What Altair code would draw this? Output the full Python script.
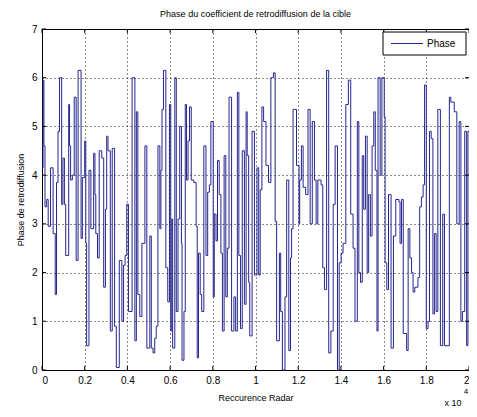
import altair as alt
import pandas as pd

# step positions (x 10^4) and phase values
x_pos = [0, 0.005, 0.009, 0.014, 0.022, 0.029, 0.04, 0.052, 0.062, 0.068, 0.075, 0.082, 0.092, 0.098,
         0.105, 0.111, 0.125, 0.129, 0.134, 0.142, 0.151, 0.16, 0.169, 0.183, 0.189, 0.2, 0.205, 0.209,
         0.22, 0.229, 0.242, 0.248, 0.252, 0.26, 0.268, 0.28, 0.289, 0.297, 0.303, 0.309, 0.32, 0.329,
         0.34, 0.348, 0.362, 0.374, 0.382, 0.389, 0.397, 0.405, 0.422, 0.435, 0.442, 0.449, 0.458, 0.468,
         0.482, 0.491, 0.505, 0.512, 0.52, 0.528, 0.535, 0.543, 0.552, 0.557, 0.562, 0.569, 0.58, 0.589,
         0.597, 0.603, 0.608, 0.612, 0.622, 0.629,
         0.637, 0.645, 0.653, 0.656, 0.665, 0.671, 0.677, 0.684, 0.691, 0.699, 0.711, 0.722, 0.727, 0.733,
         0.741, 0.748, 0.758, 0.768, 0.776, 0.784, 0.791, 0.802, 0.807, 0.815, 0.822, 0.83, 0.838, 0.845,
         0.853, 0.861, 0.868, 0.876, 0.888, 0.899, 0.907, 0.915, 0.922, 0.93, 0.938, 0.948, 0.956, 0.961,
         0.968, 0.973, 0.984, 0.995, 1.007, 1.015, 1.022, 1.03, 1.038, 1.049, 1.061, 1.072, 1.084, 1.092,
         1.099, 1.112, 1.118, 1.126, 1.138, 1.146, 1.156, 1.164, 1.169, 1.176, 1.192, 1.204, 1.207, 1.215,
         1.223, 1.235, 1.246, 1.256, 1.266,
         1.276, 1.284, 1.292, 1.307, 1.315, 1.323, 1.333, 1.343, 1.353, 1.364, 1.373, 1.384, 1.392, 1.401,
         1.41, 1.423, 1.435, 1.446, 1.457, 1.466, 1.477, 1.484, 1.492, 1.5, 1.507, 1.515, 1.523, 1.53,
         1.538, 1.546, 1.554, 1.561, 1.569, 1.574, 1.584, 1.592, 1.603, 1.607, 1.615, 1.623, 1.635, 1.646,
         1.657, 1.672, 1.677, 1.684, 1.692, 1.708, 1.715, 1.723, 1.731, 1.738, 1.746, 1.761, 1.769, 1.777,
         1.785, 1.792, 1.8, 1.808, 1.815, 1.823, 1.831, 1.838, 1.846, 1.854, 1.866, 1.877, 1.885, 1.908,
         1.915, 1.931, 1.943, 1.954, 1.962, 1.969, 1.98, 1.989, 1.995, 2.0]
phase = [4.15, 5.95, 4.6, 3.35, 3.5, 2.95, 4.15, 2.8, 1.55, 3.85, 4.9, 6.0, 3.4, 4.35,
         3.4, 2.35, 5.45, 4.6, 3.9, 4.0, 5.6, 2.25, 6.15, 2.7, 3.95, 4.7, 2.6, 0.5,
         4.1, 2.9, 4.45, 3.6, 2.8, 2.3, 4.5, 4.35, 1.7, 3.3, 4.8, 4.5, 0.8, 4.55,
         0.9, 0.05, 2.25, 1.0, 2.15, 2.35, 3.4, 1.2, 6.0, 0.6, 5.3, 1.55, 1.1, 2.6,
         4.6, 0.45, 2.75, 0.45, 0.35, 0.65, 0.9, 4.6, 2.9, 4.1, 5.35, 6.15, 2.1, 1.4,
         5.45, 0.8, 3.1, 0.45, 6.0, 1.2,
         3.1, 5.0, 2.6, 0.2, 1.2, 5.45, 3.9, 4.7, 5.4, 3.9, 3.85, 2.95, 0.25, 2.4,
         1.55, 1.2, 4.6, 2.35, 3.65, 3.8, 5.1, 1.5, 3.2, 2.65, 4.3, 3.6, 2.4, 0.8,
         4.4, 1.5, 2.5, 5.6, 0.8, 1.5, 0.8, 5.7, 2.35, 0.85, 4.5, 1.35, 5.3, 4.4,
         1.8, 0.7, 4.9, 1.95, 4.15, 1.95, 3.7, 5.4, 5.1, 4.2, 3.85, 6.0, 6.1, 3.05,
         0.6, 2.4, 1.2, 0.0, 1.5, 3.9, 0.4, 2.3, 2.9, 5.35, 4.2, 3.0, 3.9, 4.6,
         3.75, 3.6, 5.35, 3.0, 5.1,
         3.9, 3.0, 3.9, 3.8, 2.1, 1.65, 6.15, 0.35, 0.8, 3.4, 4.6, 0.0, 2.2, 2.4,
         2.6, 5.45, 5.95, 3.2, 2.5, 1.0, 5.1, 2.0, 1.8, 4.4, 3.3, 4.8, 2.0, 3.6,
         2.75, 4.6, 5.3, 4.1, 0.8, 6.0, 4.0, 6.0, 5.2, 2.2, 1.65, 3.6, 0.45, 2.75,
         3.5, 3.45, 2.6, 3.5, 0.75, 0.4, 2.9, 2.3, 2.0, 1.6, 1.7, 1.9, 3.35, 3.55,
         3.8, 5.85, 0.85, 1.0, 4.9, 4.75, 1.15, 2.8, 1.2, 5.35, 0.5, 3.2, 0.5, 5.6,
         5.5, 5.3, 3.0, 5.1, 1.0, 1.2, 4.9, 0.5, 4.9, 4.9]
x_ticks = [0, 0.2, 0.4, 0.6, 0.8, 1.0, 1.2, 1.4, 1.6, 1.8, 2.0]
y_ticks = [0, 1, 2, 3, 4, 5, 6, 7]
legend_label = ["Phase"]

W, H = 427, 341
FONT = "Liberation Sans"
LINE_COLOR = "#25258f"

df = pd.DataFrame({"x": x_pos, "phase": phase})

xs = alt.Scale(domain=[0, 2], nice=False, zero=False)
ys = alt.Scale(domain=[0, 7], nice=False, zero=False)

x_axis = alt.Axis(
    values=x_ticks, format="~g", title="Reccurence Radar", grid=True,
    gridDash=[1, 3], gridColor="black", gridOpacity=0.9, ticks=False, domain=False,
    labelPadding=5, titlePadding=8, labelFontSize=10, titleFontSize=9,
    titleFontWeight="normal", labelColor="black", titleColor="black")
y_axis = alt.Axis(
    values=y_ticks, format="d", title="Phase de retrodiffusion", grid=True,
    gridDash=[1, 3], gridColor="black", gridOpacity=0.9, ticks=False, domain=False,
    labelPadding=5, titlePadding=6, labelFontSize=10, titleFontSize=9,
    titleFontWeight="normal", labelColor="black", titleColor="black")

line = alt.Chart(df).mark_line(interpolate="step-after", strokeWidth=1, color=LINE_COLOR).encode(
    x=alt.X("x:Q", scale=xs, axis=x_axis, title="Reccurence Radar"),
    y=alt.Y("phase:Q", scale=ys, axis=y_axis, title="Phase de retrodiffusion"),
)

xt = pd.DataFrame({"x": x_ticks})
yt = pd.DataFrame({"phase": y_ticks})
tick_b = alt.Chart(xt).mark_rule(color="black", strokeWidth=1).encode(
    x=alt.X("x:Q", scale=xs, axis=x_axis, title="Reccurence Radar"), y=alt.value(H - 4), y2=alt.value(H))
tick_t = alt.Chart(xt).mark_rule(color="black", strokeWidth=1).encode(
    x=alt.X("x:Q", scale=xs, axis=x_axis, title="Reccurence Radar"), y=alt.value(0), y2=alt.value(4))
tick_l = alt.Chart(yt).mark_rule(color="black", strokeWidth=1).encode(
    y=alt.Y("phase:Q", scale=ys, axis=y_axis, title="Phase de retrodiffusion"), x=alt.value(0), x2=alt.value(4))
tick_r = alt.Chart(yt).mark_rule(color="black", strokeWidth=1).encode(
    y=alt.Y("phase:Q", scale=ys, axis=y_axis, title="Phase de retrodiffusion"), x=alt.value(W - 4), x2=alt.value(W))

# legend box (MATLAB style, top-right inside the axes)
leg_df = pd.DataFrame({"t": legend_label})
leg_box = alt.Chart(leg_df).mark_rect(fill="white", stroke="black", strokeWidth=1).encode(
    x=alt.value(W - 86), x2=alt.value(W - 3), y=alt.value(3), y2=alt.value(26))
leg_line = alt.Chart(leg_df).mark_rule(color=LINE_COLOR, strokeWidth=1).encode(
    x=alt.value(W - 78), x2=alt.value(W - 46), y=alt.value(14.5))
leg_text = alt.Chart(leg_df).mark_text(fontSize=10, font=FONT, color="black", align="left",
                                       baseline="middle").encode(
    text="t:N", x=alt.value(W - 42), y=alt.value(15))

exp_base = alt.Chart(pd.DataFrame({"t": ["x 10"]})).mark_text(
    fontSize=9, font=FONT, color="black", align="center", baseline="middle").encode(
    text="t:N", x=alt.value(W - 16), y=alt.value(H + 33))
exp_pow = alt.Chart(pd.DataFrame({"t": ["4"]})).mark_text(
    fontSize=8, font=FONT, color="black", align="center", baseline="middle").encode(
    text="t:N", x=alt.value(W - 3), y=alt.value(H + 22))

chart = alt.layer(line, tick_b, tick_t, tick_l, tick_r, leg_box, leg_line, leg_text,
                  exp_base, exp_pow).properties(
    width=W, height=H,
    title=alt.TitleParams("Phase du coefficient de retrodiffusion de la cible", fontSize=9,
                          fontWeight="normal", font=FONT, color="black", offset=5),
    autosize=alt.AutoSizeParams(type="none"),
    padding={"left": 34, "top": 21, "right": 0, "bottom": 38},
).configure(font=FONT).configure_view(stroke="black", strokeWidth=1)

chart.save("out.html", embed_options={"renderer": "svg", "actions": False})
